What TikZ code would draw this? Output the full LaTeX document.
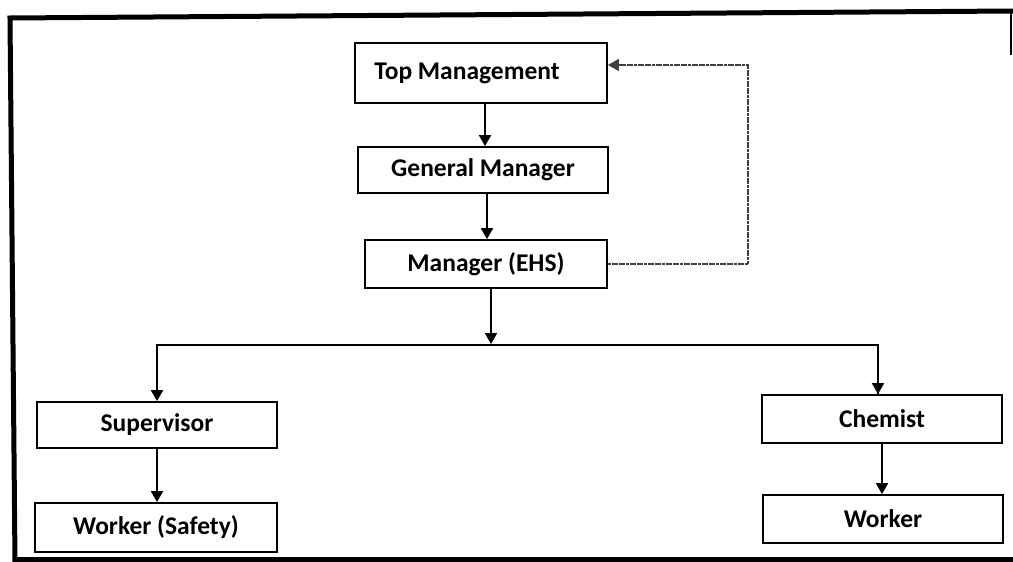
\documentclass[tikz,border=0pt]{standalone}
\usepackage{fontspec}
\setmainfont{Carlito}
\usetikzlibrary{arrows.meta}
\begin{document}
\begin{tikzpicture}[x=1pt,y=-1pt,
  box/.style={draw, line width=1.8pt, inner sep=0pt, font=\bfseries\fontsize{25.5}{30}\selectfont},
  arr/.style={line width=2pt, -{Triangle[length=11pt,width=12pt]}},
  conn/.style={line width=2pt},
  fb/.style={line width=1.4pt, black!75, dash pattern=on 3pt off 0.6pt, -{Triangle[length=11pt,width=12pt]}},
  frame/.style={line width=5pt}]
\useasboundingbox (0,0) rectangle (1013,562);
\fill[white] (0,0) rectangle (1013,562);
% frame
\draw[frame] (1013,11) -- (10,18) -- (15,562);
\draw[frame] (13,559) -- (1013,559);
\draw[line width=2pt] (1011,10) -- (1011,55);
% boxes
\node[box, minimum width=252pt, minimum height=60pt] (tm) at (481,73) {\hspace*{-28pt}Top Management};
\node[box, minimum width=250pt, minimum height=46pt] (gm) at (483,170) {General Manager};
\node[box, minimum width=242pt, minimum height=48pt] (ehs) at (486,264) {Manager (EHS)};
\node[box, minimum width=240pt, minimum height=46pt] (sup) at (157,425) {Supervisor};
\node[box, minimum width=242pt, minimum height=49pt] (ws) at (156,527.5) {Worker (Safety)};
\node[box, minimum width=240pt, minimum height=48pt] (chem) at (882,419) {Chemist};
\node[box, minimum width=240pt, minimum height=48pt] (wk) at (883,519) {Worker};
\coordinate (j) at (491,345);
% connectors
\draw[arr] ([xshift=4pt]tm.south) -- ([xshift=4pt]tm.south |- gm.north);
\draw[arr] ([xshift=4pt]gm.south) -- ([xshift=4pt]gm.south |- ehs.north);
\draw[arr] ([xshift=5pt]ehs.south) -- ([yshift=1pt]j);
\draw[conn] (j) -| ([xshift=-4pt]chem.north);
\draw[arr] (j) -| (sup.north);
\draw[arr] ([xshift=-4pt]chem.north |- j) -- ([xshift=-4pt]chem.north);
\draw[arr] (sup.south) -- (sup.south |- ws.north);
\draw[arr] (chem.south) -- (chem.south |- wk.north);
\draw[fb] (ehs.east) -- ++(140,0) |- ([yshift=8pt]tm.east);
\end{tikzpicture}
\end{document}
